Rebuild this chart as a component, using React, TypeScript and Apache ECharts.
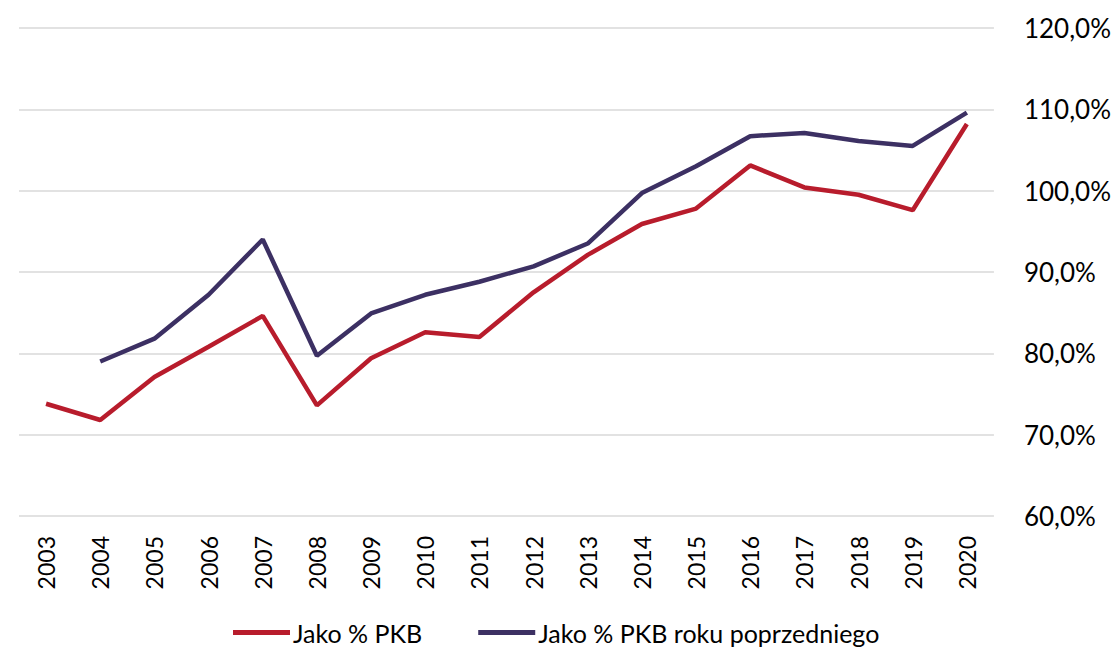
import React, { useEffect, useRef } from "react";
import * as echarts from "echarts";

const years = ["2003","2004","2005","2006","2007","2008","2009","2010","2011","2012","2013","2014","2015","2016","2017","2018","2019","2020"];
const pkb = [73.8, 71.8, 77.1, 80.8, 84.6, 73.6, 79.4, 82.6, 82.0, 87.5, 92.1, 95.9, 97.8, 103.1, 100.4, 99.5, 97.6, 108.2];
const pkbPrev = [null, 79.0, 81.8, 87.2, 94.0, 79.7, 84.9, 87.2, 88.8, 90.7, 93.5, 99.7, 103.0, 106.7, 107.1, 106.1, 105.5, 109.6];
const seriesNames = ["Jako % PKB", "Jako % PKB roku poprzedniego"];

const FONT = "Lato, 'Open Sans', sans-serif";

export default function App() {
  const ref = useRef<HTMLDivElement>(null);
  useEffect(() => {
    if (!ref.current) return;
    const chart = echarts.init(ref.current, null, { renderer: "svg" });
    chart.setOption({
      animation: false,
      grid: { left: 19, right: 119, top: 28, bottom: 132, containLabel: false },
      legend: {
        bottom: -2,
        left: 228,
        itemWidth: 57,
        itemHeight: 5,
        itemGap: 56,
        icon: "rect",
        textStyle: { fontSize: 25, color: "#000", fontFamily: FONT, padding: [0, 0, 0, -2] },
        data: seriesNames,
      },
      xAxis: {
        type: "category",
        data: years,
        boundaryGap: true,
        axisLine: { show: false },
        axisTick: { show: false },
        axisLabel: { rotate: 90, fontSize: 23, color: "#000", fontFamily: FONT, margin: 20 },
      },
      yAxis: {
        type: "value",
        position: "right",
        min: 60,
        max: 120,
        interval: 10,
        axisLine: { show: false },
        axisTick: { show: false },
        splitLine: { lineStyle: { color: "#d9d9d9", width: 1.5 } },
        axisLabel: {
          fontSize: 26,
          color: "#000",
          fontFamily: FONT,
          margin: 30,
          formatter: (v: number) => v.toFixed(1).replace(".", ",") + "%",
        },
      },
      series: [
        {
          name: seriesNames[0],
          type: "line",
          data: pkb,
          symbol: "none",
          lineStyle: { color: "#b81c2c", width: 4.5 },
          itemStyle: { color: "#b81c2c" },
        },
        {
          name: seriesNames[1],
          type: "line",
          data: pkbPrev,
          symbol: "none",
          lineStyle: { color: "#3c3063", width: 4.5 },
          itemStyle: { color: "#3c3063" },
        },
      ],
    });
    return () => chart.dispose();
  }, []);
  return <div ref={ref} style={{ width: 1114, height: 648, position: "absolute", left: 0, top: 0 }} />;
}
